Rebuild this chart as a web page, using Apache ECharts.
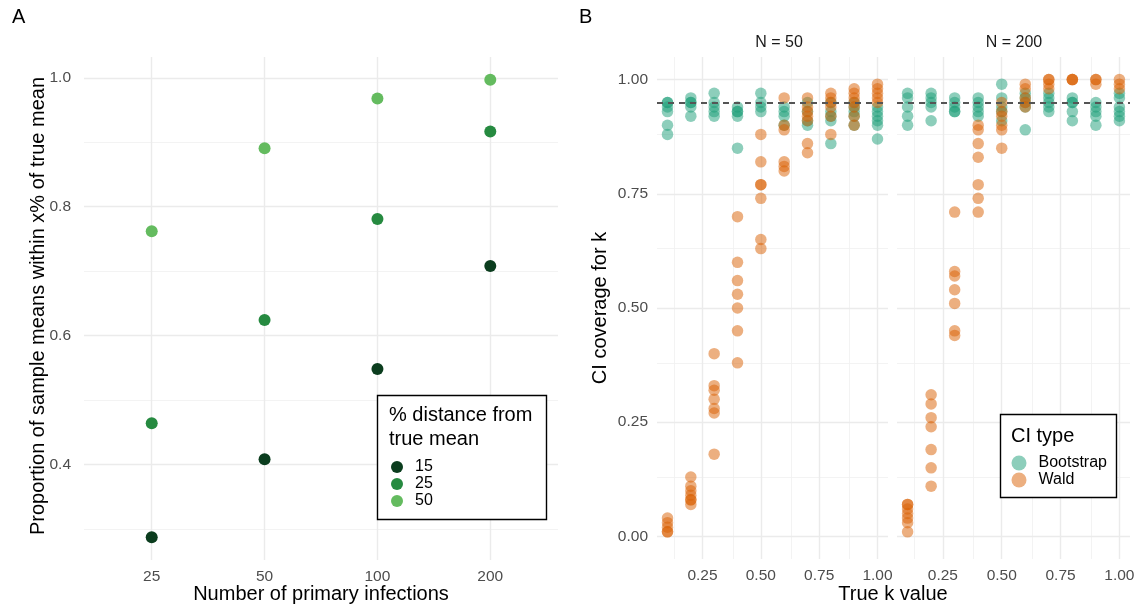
<!DOCTYPE html>
<html>
<head>
<meta charset="utf-8">
<script src="https://cdn.jsdelivr.net/npm/echarts@6/dist/echarts.min.js"></script>
<style>
  html, body { margin: 0; padding: 0; background: #ffffff; }
  #chart { width: 1147px; height: 608px; }
</style>
</head>
<body>
<div id="chart"></div>
<script>
// ---------- Panel A: proportion of sample means near the true mean ----------
const infections = ['25', '50', '100', '200'];
const dist15 = [0.287, 0.408, 0.548, 0.708];
const dist25 = [0.464, 0.624, 0.781, 0.917];
const dist50 = [0.762, 0.891, 0.968, 0.997];
const distLevels = ['15', '25', '50'];
const ticksA = [0.4, 0.6, 0.8, 1.0];
const minorA = [0.3, 0.5, 0.7, 0.9];

// ---------- Panel B: CI coverage for k by true k ----------
const kValues = [0.1, 0.2, 0.3, 0.4, 0.5, 0.6, 0.7, 0.8, 0.9, 1.0];
const facets = ['N = 50', 'N = 200'];
const ciTypes = ['Bootstrap', 'Wald'];

const bootN50 = [
  [0.95, 0.95, 0.94, 0.93, 0.90, 0.88],
  [0.96, 0.95, 0.95, 0.94, 0.92],
  [0.97, 0.95, 0.94, 0.93, 0.92],
  [0.94, 0.93, 0.93, 0.92, 0.85],
  [0.97, 0.95, 0.94, 0.93],
  [0.94, 0.93, 0.92, 0.90],
  [0.95, 0.93, 0.91, 0.90],
  [0.95, 0.93, 0.92, 0.91, 0.86],
  [0.95, 0.94, 0.93, 0.92, 0.90],
  [0.94, 0.93, 0.92, 0.91, 0.90, 0.87]
];
const waldN50 = [
  [0.04, 0.03, 0.02, 0.01, 0.01],
  [0.13, 0.11, 0.10, 0.09, 0.08, 0.08, 0.07],
  [0.40, 0.33, 0.32, 0.30, 0.28, 0.27, 0.18],
  [0.70, 0.60, 0.56, 0.53, 0.50, 0.45, 0.38],
  [0.88, 0.82, 0.77, 0.77, 0.74, 0.65, 0.63],
  [0.96, 0.90, 0.89, 0.82, 0.81, 0.80],
  [0.96, 0.94, 0.93, 0.92, 0.91, 0.86, 0.84],
  [0.97, 0.96, 0.95, 0.94, 0.92, 0.88],
  [0.98, 0.97, 0.96, 0.95, 0.94, 0.92, 0.90],
  [0.99, 0.98, 0.97, 0.96, 0.95]
];
const bootN200 = [
  [0.97, 0.96, 0.94, 0.92, 0.90],
  [0.97, 0.96, 0.95, 0.94, 0.91],
  [0.96, 0.95, 0.94, 0.93, 0.93],
  [0.96, 0.95, 0.94, 0.93, 0.92],
  [0.99, 0.96, 0.94, 0.93, 0.91],
  [0.97, 0.96, 0.95, 0.94, 0.89],
  [0.97, 0.96, 0.95, 0.94, 0.93],
  [0.96, 0.95, 0.95, 0.93, 0.91],
  [0.95, 0.94, 0.93, 0.92, 0.90],
  [0.97, 0.96, 0.94, 0.93, 0.92, 0.91]
];
const waldN200 = [
  [0.07, 0.07, 0.06, 0.05, 0.04, 0.03, 0.01],
  [0.31, 0.29, 0.26, 0.24, 0.19, 0.15, 0.11],
  [0.71, 0.58, 0.57, 0.54, 0.51, 0.45, 0.44],
  [0.90, 0.89, 0.86, 0.83, 0.77, 0.74, 0.71],
  [0.95, 0.93, 0.92, 0.90, 0.89, 0.85],
  [0.99, 0.98, 0.96, 0.95, 0.94],
  [1.00, 1.00, 0.99, 0.98],
  [1.00, 1.00, 1.00],
  [1.00, 1.00, 0.99],
  [1.00, 0.99, 0.98]
];
const nominalCoverage = 0.95;
const ticksB = [0.00, 0.25, 0.50, 0.75, 1.00];
const ticksBx = [0.25, 0.50, 0.75, 1.00];
const minorB = [0.125, 0.375, 0.625, 0.875];

// ---------- styling ----------
const FONT = "'Liberation Sans', Arial, Helvetica, sans-serif";
const greens = ['#0b3d1e', '#268a40', '#64bb5f'];
const ciColors = ['#1b9e77', '#d95f02'];
const GRID_MAJOR = { color: '#ebebeb', width: 1.4, type: 'solid' };
const GRID_MINOR = { color: '#f0f0f0', width: 0.8, type: 'solid' };

function flatten(rows) {
  const out = [];
  rows.forEach((vals, i) => vals.forEach(v => out.push([kValues[i], v])));
  return out;
}

function gridMarkLine(xMajor, xMinor, yMajor, yMinor) {
  const data = [];
  xMinor.forEach(v => data.push({ xAxis: v, lineStyle: GRID_MINOR }));
  yMinor.forEach(v => data.push({ yAxis: v, lineStyle: GRID_MINOR }));
  xMajor.forEach(v => data.push({ xAxis: v, lineStyle: GRID_MAJOR }));
  yMajor.forEach(v => data.push({ yAxis: v, lineStyle: GRID_MAJOR }));
  return { silent: true, symbol: 'none', label: { show: false }, animation: false,
    z: 0, data: data };
}

function gridSeries(idx, xMajor, xMinor, yMajor, yMinor) {
  return {
    type: 'scatter', xAxisIndex: idx, yAxisIndex: idx, data: [], z: 0, silent: true,
    markLine: gridMarkLine(xMajor, xMinor, yMajor, yMinor)
  };
}

const tickLabel = { color: '#4d4d4d', fontSize: 15.5, fontFamily: FONT };
function baseAxis(extra) {
  return Object.assign({
    type: 'value',
    axisLine: { show: false }, axisTick: { show: false },
    splitLine: { show: false }, minorSplitLine: { show: false }
  }, extra);
}

const grids = [
  { left: 84, top: 57, width: 474, height: 503 },
  { left: 657, top: 57, width: 231, height: 502 },
  { left: 897, top: 57, width: 233, height: 502 }
];

const xAxes = [
  baseAxis({ gridIndex: 0, min: 0.4, max: 4.6,
    axisLabel: Object.assign({ customValues: [1, 2, 3, 4], margin: 9,
      formatter: v => infections[Math.round(v) - 1] }, tickLabel) }),
  baseAxis({ gridIndex: 1, min: 0.055, max: 1.045,
    axisLabel: Object.assign({ customValues: ticksBx, margin: 9,
      formatter: v => v.toFixed(2) }, tickLabel) }),
  baseAxis({ gridIndex: 2, min: 0.055, max: 1.045,
    axisLabel: Object.assign({ customValues: ticksBx, margin: 9,
      formatter: v => v.toFixed(2) }, tickLabel) })
];
const yAxes = [
  baseAxis({ gridIndex: 0, min: 0.2515, max: 1.0325,
    axisLabel: Object.assign({ customValues: ticksA, margin: 13,
      formatter: v => v.toFixed(1) }, tickLabel) }),
  baseAxis({ gridIndex: 1, min: -0.0495, max: 1.0495,
    axisLabel: Object.assign({ customValues: ticksB, margin: 9,
      formatter: v => v.toFixed(2) }, tickLabel) }),
  baseAxis({ gridIndex: 2, min: -0.0495, max: 1.0495,
    axisLabel: { show: false } })
];

const series = [
  gridSeries(0, [1, 2, 3, 4], [], ticksA, minorA),
  gridSeries(1, ticksBx, minorB, ticksB, minorB),
  gridSeries(2, ticksBx, minorB, ticksB, minorB)
];

// Panel A points
[dist15, dist25, dist50].forEach((vals, j) => {
  series.push({
    name: distLevels[j], type: 'scatter', xAxisIndex: 0, yAxisIndex: 0,
    symbol: 'circle', symbolSize: 12, z: 3,
    itemStyle: { color: greens[j], opacity: 1 },
    data: vals.map((v, i) => [i + 1, v])
  });
});

// Panel B points and nominal coverage lines, one pair of series per facet
const facetData = [[bootN50, waldN50], [bootN200, waldN200]];
facetData.forEach((pair, f) => {
  pair.forEach((rows, t) => {
    const s = {
      name: ciTypes[t], type: 'scatter', xAxisIndex: f + 1, yAxisIndex: f + 1,
      symbol: 'circle', symbolSize: 11.5, z: 3 + t,
      itemStyle: { color: ciColors[t], opacity: 0.5 },
      data: flatten(rows)
    };
    if (t === 1) {
      s.markLine = {
        silent: true, symbol: 'none', label: { show: false }, animation: false, z: 6,
        lineStyle: { color: '#555555', width: 1.8, type: [6, 5] },
        data: [{ yAxis: nominalCoverage }]
      };
    }
    series.push(s);
  });
});

const textStyleBase = { fontFamily: FONT, fill: '#000000' };
function txt(x, y, text, size, extra) {
  return { type: 'text', x: x, y: y, silent: true,
    style: Object.assign({}, textStyleBase, { text: text, fontSize: size }, extra || {}) };
}

const graphic = [
  txt(12, 17, 'A', 20, { verticalAlign: 'middle' }),
  txt(579, 17, 'B', 20, { verticalAlign: 'middle' }),
  // axis titles
  txt(321, 594, 'Number of primary infections', 20, { align: 'center', verticalAlign: 'middle' }),
  txt(893, 594, 'True k value', 20, { align: 'center', verticalAlign: 'middle' }),
  { type: 'text', x: 38, y: 306, rotation: Math.PI / 2, silent: true,
    style: Object.assign({}, textStyleBase, { text: 'Proportion of sample means within x% of true mean',
      fontSize: 20, align: 'center', verticalAlign: 'middle' }) },
  { type: 'text', x: 600, y: 308, rotation: Math.PI / 2, silent: true,
    style: Object.assign({}, textStyleBase, { text: 'CI coverage for k',
      fontSize: 20, align: 'center', verticalAlign: 'middle' }) },
  // facet strips
  txt(779, 43, facets[0], 16, { align: 'center', verticalAlign: 'middle', fill: '#1a1a1a' }),
  txt(1014, 43, facets[1], 16, { align: 'center', verticalAlign: 'middle', fill: '#1a1a1a' }),
  // legend frames and titles
  { type: 'rect', shape: { x: 377.5, y: 395.5, width: 169, height: 124 }, silent: true, z: 10,
    style: { fill: '#ffffff', stroke: '#000000', lineWidth: 1.4 } },
  txt(389, 415, '% distance from', 20, { verticalAlign: 'middle' }),
  txt(389, 439, 'true mean', 20, { verticalAlign: 'middle' }),
  { type: 'rect', shape: { x: 1000.5, y: 414.5, width: 116, height: 83 }, silent: true, z: 10,
    style: { fill: '#ffffff', stroke: '#000000', lineWidth: 1.4 } },
  txt(1011, 436, 'CI type', 20, { verticalAlign: 'middle' })
];
graphic.forEach(g => { if (g.z === undefined) g.z = 11; });

const option = {
  animation: false,
  backgroundColor: '#ffffff',
  textStyle: { fontFamily: FONT },
  grid: grids,
  xAxis: xAxes,
  yAxis: yAxes,
  legend: [
    { data: distLevels, orient: 'vertical', left: 391, top: 459, itemWidth: 12, itemHeight: 12,
      itemGap: 1, icon: 'circle', selectedMode: false, z: 12, padding: 0,
      textStyle: { fontSize: 16, lineHeight: 14, fontFamily: FONT, color: '#000000',
        padding: [0, 0, 0, 7] } },
    { data: ciTypes, orient: 'vertical', left: 1011.5, top: 455, itemWidth: 15, itemHeight: 15,
      itemGap: 1, icon: 'circle', selectedMode: false, z: 12, padding: 0,
      textStyle: { fontSize: 16, lineHeight: 15, fontFamily: FONT, color: '#000000',
        padding: [0, 0, 0, 7] } }
  ],
  graphic: graphic,
  series: series
};

const chart = echarts.init(document.getElementById('chart'), null, { renderer: 'canvas' });
chart.setOption(option);
</script>
</body>
</html>
